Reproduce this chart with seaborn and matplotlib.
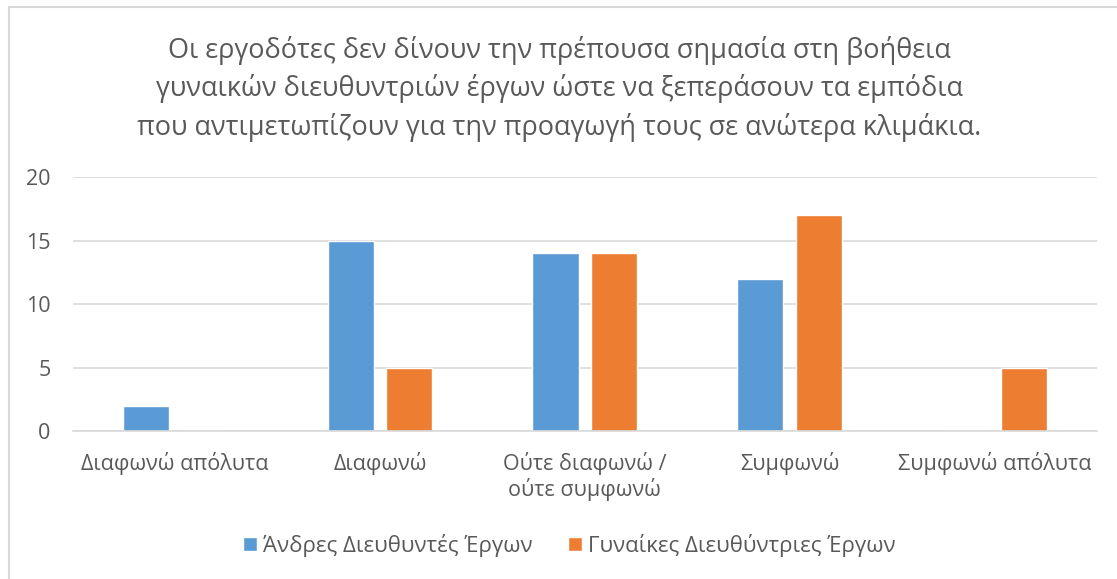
import pandas as pd
import matplotlib.pyplot as plt
import seaborn as sns
from matplotlib.patches import Rectangle

categories = ["Διαφωνώ απόλυτα", "Διαφωνώ", "Ούτε διαφωνώ /\nούτε συμφωνώ", "Συμφωνώ", "Συμφωνώ απόλυτα"]
men = [2, 15, 14, 12, 0]
women = [0, 5, 14, 17, 5]
series = ["Άνδρες Διευθυντές Έργων", "Γυναίκες Διευθύντριες Έργων"]
title = ("Οι εργοδότες δεν δίνουν την πρέπουσα σημασία στη βοήθεια\n"
         "γυναικών διευθυντριών έργων ώστε να ξεπεράσουν τα εμπόδια\n"
         "που αντιμετωπίζουν για την προαγωγή τους σε ανώτερα κλιμάκια.")

df = pd.DataFrame({
    "cat": categories * 2,
    "value": men + women,
    "series": [series[0]] * 5 + [series[1]] * 5,
})

sns.set_style("white")
plt.rcParams["font.family"] = ["Open Sans", "DejaVu Sans"]
text_col = "#595959"

fig = plt.figure(figsize=(11.17, 5.79), dpi=100)
ax = fig.add_axes([0.065, 0.2556, 0.917, 0.4386])

sns.barplot(data=df, x="cat", y="value", hue="series", order=categories,
            palette=["#5b9bd5", "#ed7d31"], width=0.57, gap=0.21,
            saturation=1, ax=ax, legend=True)

ax.set_ylim(0, 20)
ax.set_xlim(-0.5, 4.5)
ax.set_yticks([0, 5, 10, 15, 20])
ax.yaxis.grid(True, color="#d9d9d9", linewidth=1.2)
ax.set_axisbelow(True)
for s in ["top", "right", "left"]:
    ax.spines[s].set_visible(False)
ax.spines["bottom"].set_color("#d9d9d9")
ax.spines["bottom"].set_linewidth(1.2)
ax.set_xlabel("")
ax.set_ylabel("")
ax.tick_params(axis="both", length=0, labelsize=15.5, labelcolor=text_col)
ax.tick_params(axis="x", pad=15)
ax.tick_params(axis="y", pad=16)

fig.text(0.501, 0.937, title, ha="center", va="top", fontsize=19.5,
         color=text_col, linespacing=1.41)

handles, labels = ax.get_legend_handles_labels()
ax.get_legend().remove()
fig.legend(handles, labels, loc="center", bbox_to_anchor=(0.51, 0.058), ncol=2,
           frameon=False, fontsize=16, labelcolor=text_col, handlelength=0.6,
           handleheight=0.6, handletextpad=0.3, columnspacing=1.6)

fig.patches.append(Rectangle((9 / 1117, -0.1), 1.2, 1 - 7 / 579 + 0.1,
                             transform=fig.transFigure, fill=False,
                             edgecolor="#d9d9d9", linewidth=1.5))

fig.savefig("out.png", dpi=100)
